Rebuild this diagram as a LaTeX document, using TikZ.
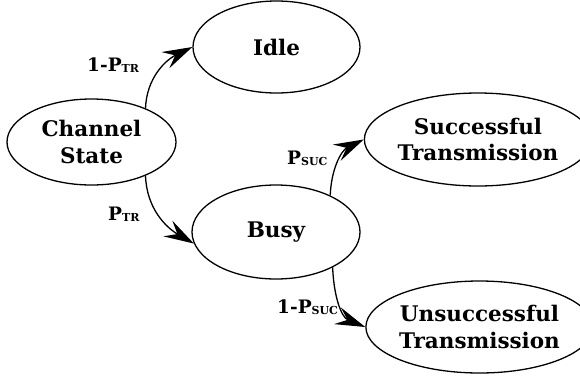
\documentclass[tikz,border=0pt]{standalone}
\usepackage{fontspec}
\setmainfont{DejaVu Serif}
\usetikzlibrary{shapes.geometric,arrows.meta}
\newcommand{\lsub}[1]{\raisebox{-1.5pt}{\fontsize{11}{12}\selectfont #1}}
\tikzset{
  state/.style={ellipse, draw, line width=1.3pt, inner sep=0pt, align=center,
    font=\fontsize{21.5}{26.5}\selectfont\bfseries},
  arr/.style={line width=1.3pt, arrows={-Stealth[length=30pt, width=18pt, inset=11pt]}},
  lbl/.style={inner sep=0pt, anchor=base west, font=\fontsize{18.5}{20}\selectfont\bfseries}
}
\begin{document}
\begin{tikzpicture}[x=1pt,y=-1pt]
\useasboundingbox (0,0) rectangle (580,381);
\node[state, minimum width=169pt, minimum height=86pt] (cs) at (91.5,142) {Channel\\State};
\node[state, minimum width=167pt, minimum height=92pt] (idle) at (276.5,47) {Idle};
\node[state, minimum width=168pt, minimum height=94pt] (busy) at (276,232) {Busy};
\node[state, minimum width=202pt, minimum height=93pt] (suc) at (478,139.5) {Successful\\Transmission};
\node[state, minimum width=199pt, minimum height=92pt] (uns) at (479.5,327) {Unsuccessful\\Transmission};
\draw[arr] (cs.32) to[out=88,in=206] (idle.west);
\draw[arr] (cs.-32) to[out=-88,in=150] (busy.188);
\draw[arr] (busy.34) to[out=88,in=206] (suc.west);
\draw[arr] (busy.-32) to[out=-88,in=158] (uns.west);
\node[lbl] (l1) at (87,71) {1-P\lsub{TR}};
\node[lbl] (l2) at (108,220) {P\lsub{TR}};
\node[lbl] (l3) at (287,164) {P\lsub{SUC}};
\node[lbl] (l4) at (277,313) {1-P\lsub{SUC}};
\end{tikzpicture}
\end{document}
